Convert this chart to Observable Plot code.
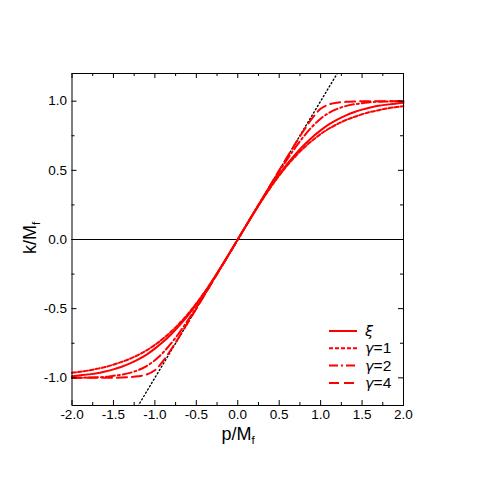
<!DOCTYPE html>
<html><head><meta charset="utf-8">
<script src="https://cdn.jsdelivr.net/npm/d3@7"></script>
<script src="https://cdn.jsdelivr.net/npm/@observablehq/plot@0.6"></script>
<style>body{margin:0;background:#fff;}</style>
</head><body><div id="chart"></div>
<script>
const p = [-2.0,-1.9,-1.8,-1.7,-1.6,-1.5,-1.4,-1.3,-1.2,-1.1,-1.0,-0.9,-0.8,-0.7,-0.6,-0.5,-0.4,-0.3,-0.2,-0.1,0,0.1,0.2,0.3,0.4,0.5,0.6,0.7,0.8,0.9,1.0,1.1,1.2,1.3,1.4,1.5,1.6,1.7,1.8,1.9,2.0];
const xi = [-0.988,-0.982,-0.975,-0.967,-0.954,-0.939,-0.920,-0.896,-0.867,-0.832,-0.789,-0.740,-0.683,-0.619,-0.548,-0.469,-0.384,-0.293,-0.198,-0.100,0,0.100,0.198,0.293,0.384,0.469,0.548,0.619,0.683,0.740,0.789,0.832,0.867,0.896,0.920,0.939,0.954,0.967,0.975,0.982,0.988];
const g1 = [-0.964,-0.956,-0.947,-0.935,-0.922,-0.905,-0.885,-0.862,-0.834,-0.801,-0.762,-0.716,-0.664,-0.604,-0.537,-0.462,-0.380,-0.291,-0.197,-0.100,0,0.100,0.197,0.291,0.380,0.462,0.537,0.604,0.664,0.716,0.762,0.801,0.834,0.862,0.885,0.905,0.922,0.935,0.947,0.956,0.964];
const g2 = [-1.000,-0.999,-0.998,-0.996,-0.993,-0.985,-0.977,-0.964,-0.944,-0.915,-0.873,-0.817,-0.748,-0.669,-0.583,-0.492,-0.397,-0.299,-0.200,-0.100,0,0.100,0.200,0.299,0.397,0.492,0.583,0.669,0.748,0.817,0.873,0.915,0.944,0.964,0.977,0.985,0.993,0.996,0.998,0.999,1.000];
const g4 = [-1.000,-1.000,-1.000,-1.000,-1.000,-0.999,-0.998,-0.995,-0.989,-0.976,-0.945,-0.877,-0.792,-0.697,-0.599,-0.500,-0.400,-0.300,-0.200,-0.100,0,0.100,0.200,0.300,0.400,0.500,0.599,0.697,0.792,0.877,0.945,0.976,0.989,0.995,0.998,0.999,1.000,1.000,1.000,1.000,1.000];
const diagX = [-1.3, 1.3];
const seriesGreek = ["ξ","γ","γ","γ"];
const seriesSuffix = ["","=1","=2","=4"];
const seriesValues = [xi, g1, g2, g4];
const seriesDash = [null, "4,2", "9,3,2,3", "10,5"];
const xTicks = [-2.0,-1.5,-1.0,-0.5,0.0,0.5,1.0,1.5,2.0];
const xMinor = [-1.75,-1.25,-0.75,-0.25,0.25,0.75,1.25,1.75];
const yTicks = [-1.0,-0.5,0.0,0.5,1.0];
const yMinor = [-0.75,-0.25,0.25,0.75];

const W = 477, H = 477, mL = 71.5, mR = 74, mT = 73, mB = 72;
const pw = W - mL - mR, ph = H - mT - mB;
const red = "#ff0000";
const FONT = "'Liberation Sans', Arial, sans-serif";
const GREEK = "'DejaVu Sans', sans-serif";

const lineMarks = seriesValues.map((vals, i) =>
  Plot.line(p.map((x, j) => ({x, y: vals[j]})), {
    x: "x", y: "y", stroke: red, strokeWidth: 2,
    strokeDasharray: seriesDash[i] || undefined, curve: "catmull-rom"
  }));

const fmt = d => d.toFixed(1);
const chart = Plot.plot({
  width: W, height: H,
  marginLeft: mL, marginRight: mR, marginTop: mT, marginBottom: mB,
  x: {domain: [-2, 2]},
  y: {domain: [-1.2, 1.2]},
  style: {fontFamily: FONT, fontSize: "13px", color: "black", background: "white"},
  marks: [
    Plot.ruleY([0], {stroke: "black", strokeWidth: 1}),
    Plot.line(diagX.map(x => ({x, y: x})), {x: "x", y: "y", stroke: "black", strokeWidth: 1.4, strokeDasharray: "1.2,2.6", clip: true}),
    ...lineMarks,
    Plot.tickX(xTicks, {x: d => d, insetTop: ph - 5, stroke: "black"}),
    Plot.tickX(xTicks, {x: d => d, insetBottom: ph - 5, stroke: "black"}),
    Plot.tickX(xMinor, {x: d => d, insetTop: ph - 3, stroke: "black"}),
    Plot.tickX(xMinor, {x: d => d, insetBottom: ph - 3, stroke: "black"}),
    Plot.tickY(yTicks, {y: d => d, insetRight: pw - 5, stroke: "black"}),
    Plot.tickY(yTicks, {y: d => d, insetLeft: pw - 5, stroke: "black"}),
    Plot.tickY(yMinor, {y: d => d, insetRight: pw - 3, stroke: "black"}),
    Plot.tickY(yMinor, {y: d => d, insetLeft: pw - 3, stroke: "black"}),
    Plot.frame({stroke: "black", strokeWidth: 1}),
    Plot.axisX(xTicks, {tickSize: 0, tickPadding: 4, tickFormat: fmt, label: null, fontSize: 13.5}),
    Plot.axisY(yTicks, {tickSize: 0, tickPadding: 5, tickFormat: fmt, label: null, fontSize: 13.5})
  ]
});

const svg = d3.select(chart);
// axis titles with subscript
const yl = svg.append("text").attr("transform", "translate(36,238) rotate(-90)")
  .attr("text-anchor", "middle").attr("font-size", 18).attr("fill", "black")
  .attr("font-family", FONT);
yl.append("tspan").text("k/M");
yl.append("tspan").attr("font-size", 11.5).attr("dy", 4).text("f");
const xl = svg.append("text").attr("x", 238).attr("y", 440)
  .attr("text-anchor", "middle").attr("font-size", 18).attr("fill", "black")
  .attr("font-family", FONT);
xl.append("tspan").text("p/M");
xl.append("tspan").attr("font-size", 11.5).attr("dy", 4).text("f");

// legend
const lg = svg.append("g");
seriesGreek.forEach((g, i) => {
  const yy = 331 + i * 17.3;
  lg.append("line").attr("x1", 329).attr("x2", 357).attr("y1", yy).attr("y2", yy)
    .attr("stroke", red).attr("stroke-width", 2)
    .attr("stroke-dasharray", seriesDash[i] || null);
  const t = lg.append("text").attr("x", 365).attr("y", yy + 5).attr("font-size", 15.5)
    .attr("text-anchor", "start").attr("font-family", FONT).attr("fill", "black");
  t.append("tspan").attr("font-family", GREEK).attr("font-style", "italic").attr("font-size", 14.5).text(g);
  t.append("tspan").text(seriesSuffix[i]);
});

document.getElementById("chart").appendChild(chart);
</script></body></html>
